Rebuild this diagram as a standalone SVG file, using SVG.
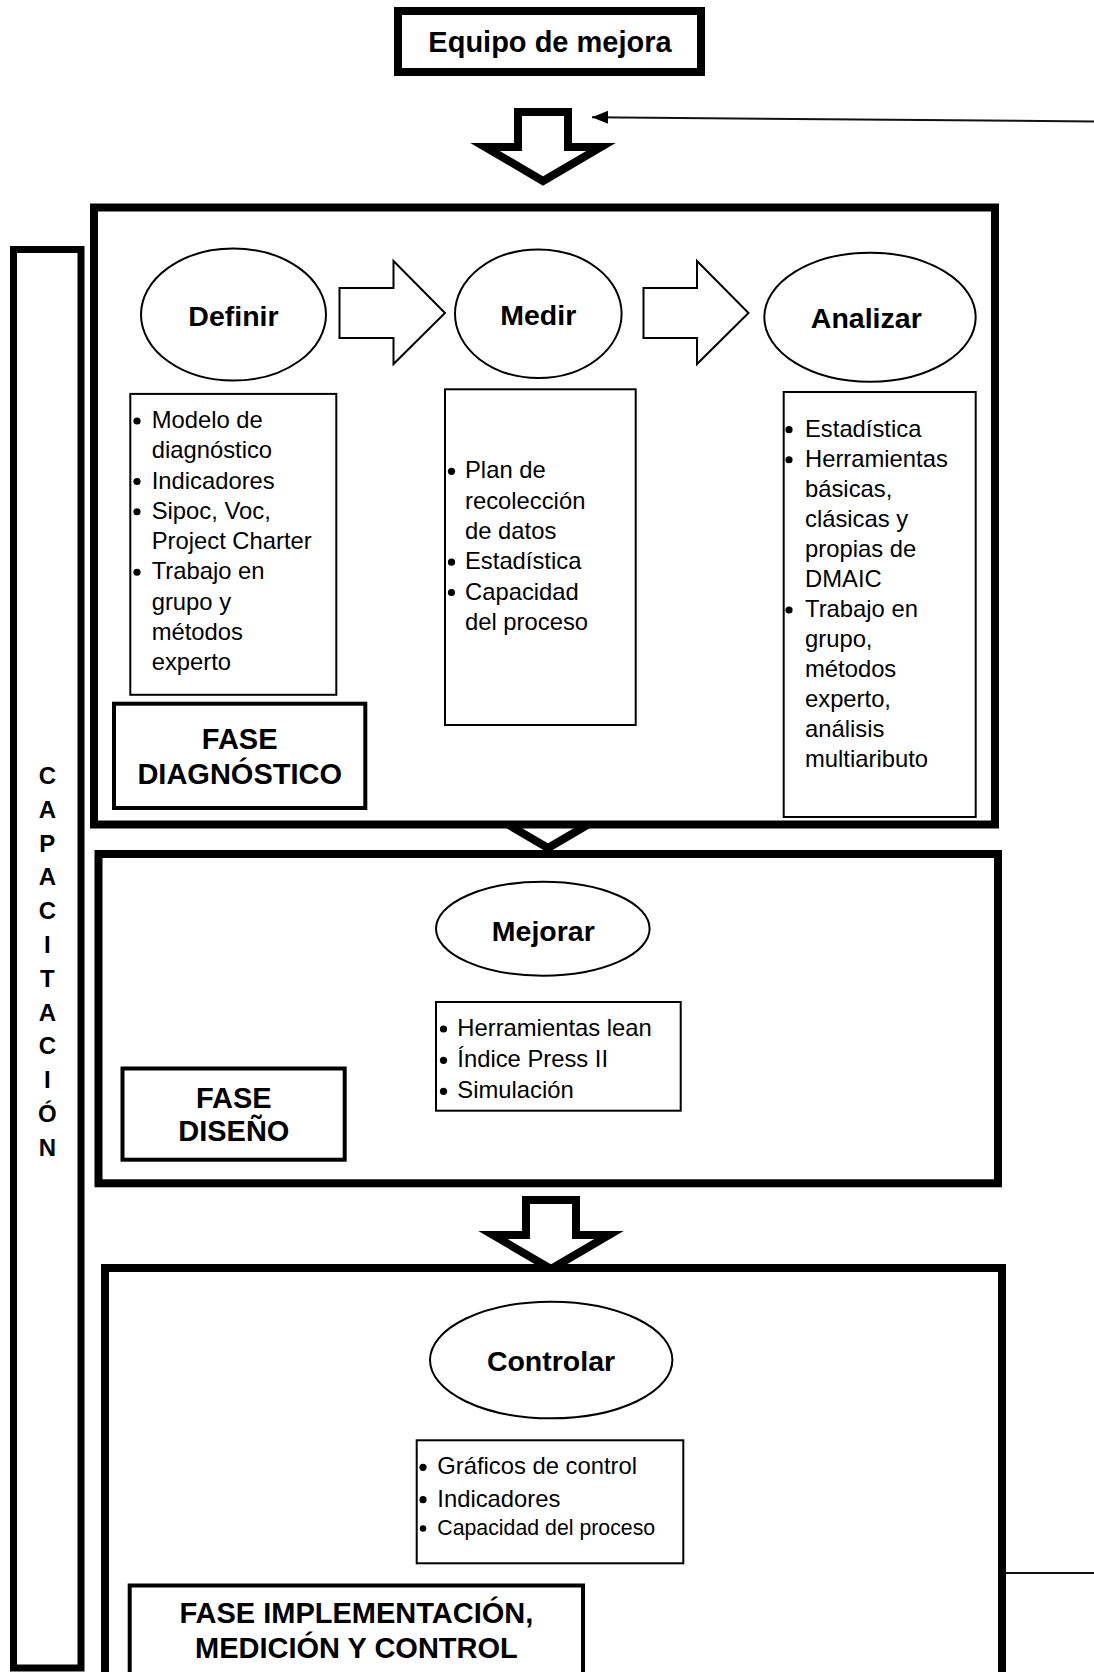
<svg xmlns="http://www.w3.org/2000/svg" width="1094" height="1672" viewBox="0 0 1094 1672">
<style>
text{font-family:"Liberation Sans",Arial,sans-serif;fill:#000}
.b{font-weight:bold}
.lbl{font-size:28.5px;font-weight:bold;text-anchor:middle}
.hd{font-size:29px;font-weight:bold;text-anchor:middle}
.li{font-size:23.8px}
.big{fill:#fff;stroke:#000;stroke-width:8}
.cap{fill:#fff;stroke:#000;stroke-width:7}
.ph{fill:#fff;stroke:#000;stroke-width:4}
.thin{fill:#fff;stroke:#000;stroke-width:2}
.darr{fill:#fff;stroke:#000;stroke-width:8;stroke-linejoin:miter}
.rarr{fill:#fff;stroke:#000;stroke-width:2;stroke-linejoin:miter}
.conn{fill:none;stroke:#111;stroke-width:2}
circle{fill:#000}
</style>
<defs>
<path id="down" d="M-25,0 H25 V35 H58 L0,69 L-58,35 H-25 Z"/>
<marker id="ah" markerWidth="16" markerHeight="14" refX="16" refY="7" orient="auto" markerUnits="userSpaceOnUse"><path d="M16,7 L0,0.5 L0,13.5 Z" fill="#000"/></marker>
</defs>
<rect x="0" y="0" width="1094" height="1672" fill="#fff"/>

<g id="connectors">
<use href="#down" class="darr" transform="translate(543,112)"/>
<use href="#down" class="darr" transform="translate(548,779)"/>
<use href="#down" class="darr" transform="translate(551,1200)"/>
<path class="conn" d="M1006,1573 H1120 V121.7 L592,117.2" marker-end="url(#ah)"/>
</g>

<g id="equipo">
<rect x="398" y="11" width="303" height="61" class="big"/>
<text class="hd" x="550" y="52">Equipo de mejora</text>
</g>

<g id="capacitacion">
<rect x="13.5" y="249.5" width="67.5" height="1418.5" class="cap"/>
<text class="b" font-size="24" text-anchor="middle" x="47.3" y="784"><tspan x="47.3">C</tspan><tspan x="47.3" dy="33.8">A</tspan><tspan x="47.3" dy="33.8">P</tspan><tspan x="47.3" dy="33.8">A</tspan><tspan x="47.3" dy="33.8">C</tspan><tspan x="47.3" dy="33.8">I</tspan><tspan x="47.3" dy="33.8">T</tspan><tspan x="47.3" dy="33.8">A</tspan><tspan x="47.3" dy="33.8">C</tspan><tspan x="47.3" dy="33.8">I</tspan><tspan x="47.3" dy="33.8">Ó</tspan><tspan x="47.3" dy="33.8">N</tspan></text>
</g>

<g id="fase-diagnostico">
<rect x="94" y="207.5" width="901" height="617" class="big"/>
<rect x="114" y="703.7" width="251.3" height="104.3" class="ph"/>
<text class="hd" x="239.7" y="749">FASE</text>
<text class="hd" x="239.7" y="784">DIAGNÓSTICO</text>
</g>

<g id="definir">
<ellipse cx="233.5" cy="314.6" rx="92.5" ry="66" class="thin"/>
<text class="lbl" x="233.5" y="325.7">Definir</text>
</g>
<g id="arrow-definir-medir">
<path class="rarr" d="M339.5,288 H393.5 V261 L445,313 L393.5,364 V338 H339.5 Z"/>
</g>
<g id="definir-lista">
<rect x="130.3" y="393.9" width="206" height="300.9" class="thin"/>
<circle cx="137" cy="421" r="3.6"/><circle cx="137" cy="481.5" r="3.6"/><circle cx="137" cy="511.75" r="3.6"/><circle cx="137" cy="572.25" r="3.6"/>
<text class="li" x="151.7" y="428">Modelo de</text>
<text class="li" x="151.7" y="458.25">diagnóstico</text>
<text class="li" x="151.7" y="488.5">Indicadores</text>
<text class="li" x="151.7" y="518.75">Sipoc, Voc,</text>
<text class="li" x="151.7" y="549">Project Charter</text>
<text class="li" x="151.7" y="579.25">Trabajo en</text>
<text class="li" x="151.7" y="609.5">grupo y</text>
<text class="li" x="151.7" y="639.75">métodos</text>
<text class="li" x="151.7" y="670">experto</text>
</g>

<g id="medir">
<ellipse cx="538.3" cy="313.7" rx="83.3" ry="64.3" class="thin"/>
<text class="lbl" x="538.3" y="325">Medir</text>
</g>
<g id="arrow-medir-analizar">
<path class="rarr" d="M643.5,288 H697 V261 L748.5,313 L697,364 V338 H643.5 Z"/>
</g>
<g id="medir-lista">
<rect x="445" y="389.3" width="190.7" height="335.7" class="thin"/>
<circle cx="451.5" cy="471.3" r="3.6"/><circle cx="451.5" cy="562.2" r="3.6"/><circle cx="451.5" cy="592.5" r="3.6"/>
<text class="li" x="465" y="478.3">Plan de</text>
<text class="li" x="465" y="508.6">recolección</text>
<text class="li" x="465" y="538.9">de datos</text>
<text class="li" x="465" y="569.2">Estadística</text>
<text class="li" x="465" y="599.5">Capacidad</text>
<text class="li" x="465" y="629.8">del proceso</text>
</g>

<g id="analizar">
<ellipse cx="870" cy="317.2" rx="105.7" ry="64.5" class="thin"/>
<text class="lbl" x="866.3" y="328.3">Analizar</text>
</g>
<g id="analizar-lista">
<rect x="783.7" y="392" width="192" height="425" class="thin"/>
<circle cx="789" cy="429.7" r="3.6"/><circle cx="789" cy="459.75" r="3.6"/><circle cx="789" cy="610" r="3.6"/>
<text class="li" x="805" y="436.7">Estadística</text>
<text class="li" x="805" y="466.75">Herramientas</text>
<text class="li" x="805" y="496.8">básicas,</text>
<text class="li" x="805" y="526.85">clásicas y</text>
<text class="li" x="805" y="556.9">propias de</text>
<text class="li" x="805" y="586.95">DMAIC</text>
<text class="li" x="805" y="617">Trabajo en</text>
<text class="li" x="805" y="647.05">grupo,</text>
<text class="li" x="805" y="677.1">métodos</text>
<text class="li" x="805" y="707.15">experto,</text>
<text class="li" x="805" y="737.2">análisis</text>
<text class="li" x="805" y="767.25">multiaributo</text>
</g>

<g id="fase-diseno">
<rect x="98.5" y="854" width="899.5" height="329.3" class="big"/>
<rect x="122.5" y="1068.5" width="222.2" height="91.2" class="ph"/>
<text class="hd" x="233.8" y="1107.7">FASE</text>
<text class="hd" x="233.8" y="1141">DISEÑO</text>
</g>
<g id="mejorar">
<ellipse cx="542.8" cy="928.7" rx="106.8" ry="47" class="thin"/>
<text class="lbl" x="543.3" y="940.7">Mejorar</text>
</g>
<g id="mejorar-lista">
<rect x="436" y="1002" width="244.7" height="108.7" class="thin"/>
<circle cx="443.5" cy="1029" r="3.6"/><circle cx="443.5" cy="1060.3" r="3.6"/><circle cx="443.5" cy="1091.3" r="3.6"/>
<text class="li" x="457.3" y="1036">Herramientas lean</text>
<text class="li" x="457.3" y="1067.3">Índice Press II</text>
<text class="li" x="457.3" y="1098.3">Simulación</text>
</g>

<g id="fase-implementacion">
<rect x="105" y="1268" width="897" height="450" class="big"/>
<rect x="129.7" y="1585.5" width="453.3" height="150" class="ph"/>
<text class="hd" x="356.4" y="1623.3">FASE IMPLEMENTACIÓN,</text>
<text class="hd" x="356.4" y="1658">MEDICIÓN Y CONTROL</text>
</g>
<g id="controlar">
<ellipse cx="551.2" cy="1360" rx="121.2" ry="58.3" class="thin"/>
<text class="lbl" x="551" y="1371">Controlar</text>
</g>
<g id="controlar-lista">
<rect x="416.7" y="1440.3" width="266.6" height="123" class="thin"/>
<circle cx="423" cy="1467.3" r="3.6"/><circle cx="423" cy="1499.7" r="3.6"/><circle cx="423" cy="1528.5" r="3.2"/>
<text class="li" x="437.3" y="1474.3">Gráficos de control</text>
<text class="li" x="437.3" y="1506.7">Indicadores</text>
<text x="437.3" y="1535" font-size="21.3">Capacidad del proceso</text>
</g>
</svg>
